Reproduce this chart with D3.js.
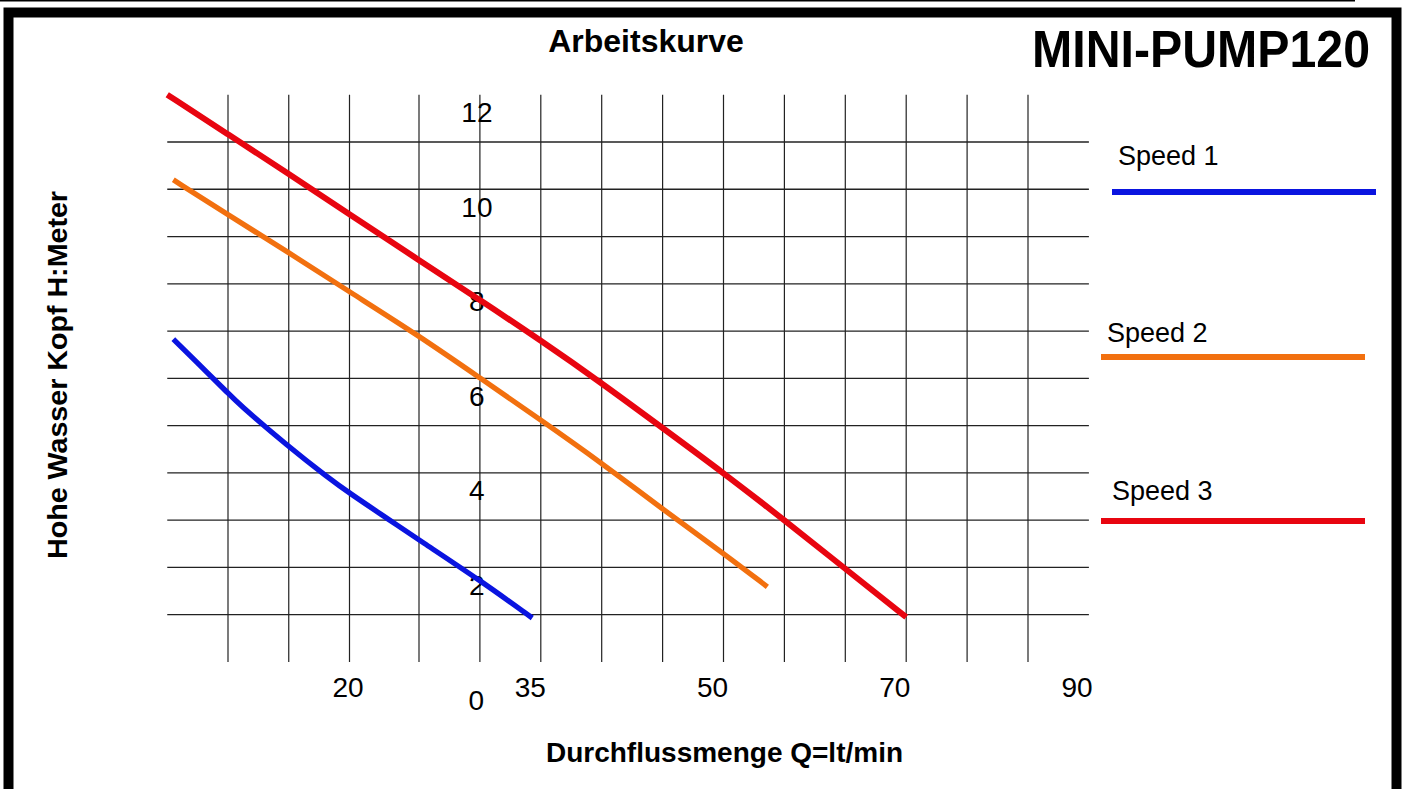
<!DOCTYPE html>
<html>
<head>
<meta charset="utf-8">
<script src="https://cdn.jsdelivr.net/npm/d3@7/dist/d3.min.js"></script>
<style>
    body { margin: 0; background: #fff; }
    svg { display: block; }
    text { font-family: "Liberation Sans", Arial, sans-serif; fill: #000; }
</style>
</head>
<body>
<div id="chart"></div>
<script>
// Data ----------------------------------------------------------------------
var speeds = ["Speed 1", "Speed 2", "Speed 3"];
var speedColors = ["#0a14e0", "#f2700f", "#e80510"];

// flow Q (l/min) and head H (m) for every speed
var q1 = [5.5, 8.5, 10, 10.7, 15, 18.2, 20, 22.9, 25, 30, 34.3];
var h1 = [7.83, 7.07, 6.69, 6.5, 5.55, 4.91, 4.57, 4.0, 3.58, 2.73, 1.93];

var q2 = [5.5, 10, 15, 20, 25, 30, 35, 40, 45, 50, 53.6];
var h2 = [11.2, 10.46, 9.66, 8.83, 7.9, 7.01, 6.12, 5.21, 4.23, 3.3, 2.59];

var q3 = [5, 10, 15, 20, 25, 30, 35, 40, 45, 50, 55, 60, 65];
var h3 = [13.0, 12.16, 11.33, 10.47, 9.5, 8.66, 7.8, 6.9, 5.95, 5.0, 4.0, 2.97, 1.95];

var xTickLabels = ["20", "35", "50", "70", "90"];
var yTickValues = [2, 4, 6, 8, 10, 12];
var gridQ = d3.range(10, 80, 5);
var gridH = d3.range(2, 13, 1);

var series = [
    { name: speeds[0], color: speedColors[0], q: q1, h: h1 },
    { name: speeds[1], color: speedColors[1], q: q2, h: h2 },
    { name: speeds[2], color: speedColors[2], q: q3, h: h3 }
];

// Dimensions ----------------------------------------------------------------
var width = 1407,
    height = 789;

var svg = d3.select("#chart").append("svg")
    .attr("width", width)
    .attr("height", height);

// Scales ---------------------------------------------------------------------
// the grid in the drawing is slightly uneven, so the x scale is polylinear
var x = d3.scaleLinear()
    .domain([10, 20, 25, 75])
    .range([228, 349.5, 419, 1028]);
var y = d3.scaleLinear()
    .domain([2, 12])
    .range([614.7, 142]);
var xLabel = d3.scalePoint()
    .domain(xTickLabels)
    .range([348, 1077]);

// Frame ----------------------------------------------------------------------
svg.append("line")
    .attr("x1", 0).attr("x2", 1355)
    .attr("y1", 0.8).attr("y2", 0.8)
    .attr("stroke", "#000")
    .attr("stroke-width", 1.6);

svg.append("rect")
    .attr("x", 8.5)
    .attr("y", 12.5)
    .attr("width", 1388)
    .attr("height", 900)
    .attr("fill", "none")
    .attr("stroke", "#000")
    .attr("stroke-width", 10);

// Grid -----------------------------------------------------------------------
svg.append("g").selectAll("line")
    .data(gridH)
    .enter().append("line")
    .attr("x1", x(5))
    .attr("x2", x(80))
    .attr("y1", function(d) { return y(d); })
    .attr("y2", function(d) { return y(d); })
    .attr("stroke", "#222")
    .attr("stroke-width", 1.3);

svg.append("g").selectAll("line")
    .data(gridQ)
    .enter().append("line")
    .attr("x1", function(d) { return x(d); })
    .attr("x2", function(d) { return x(d); })
    .attr("y1", y(13))
    .attr("y2", y(1))
    .attr("stroke", "#222")
    .attr("stroke-width", 1.2);

// Tick labels ----------------------------------------------------------------
svg.append("g").selectAll("text")
    .data(yTickValues)
    .enter().append("text")
    .attr("x", x(30) - 3)
    .attr("y", function(d) { return y(d) - 30; })
    .attr("dy", "0.36em")
    .attr("text-anchor", "middle")
    .style("font-size", "28px")
    .text(function(d) { return d; });

// origin label sits on its own, below the y labels
svg.append("text")
    .attr("x", x(30) - 3.5)
    .attr("y", y(0) - 9)
    .attr("dy", "0.36em")
    .attr("text-anchor", "middle")
    .style("font-size", "28px")
    .text("0");

svg.append("g").selectAll("text")
    .data(xTickLabels)
    .enter().append("text")
    .attr("x", function(d) { return xLabel(d); })
    .attr("y", 697)
    .attr("text-anchor", "middle")
    .style("font-size", "28px")
    .text(function(d) { return d; });

// Curves ---------------------------------------------------------------------
var line = d3.line()
    .x(function(d) { return x(d[0]); })
    .y(function(d) { return y(d[1]); })
    .curve(d3.curveBasis);

svg.append("g").selectAll("path")
    .data(series)
    .enter().append("path")
    .attr("d", function(s) { return line(d3.zip(s.q, s.h)); })
    .attr("fill", "none")
    .attr("stroke", function(s) { return s.color; })
    .attr("stroke-width", function(s, i) { return i == 2 ? 6 : 5.3; })
    .attr("stroke-linejoin", "round");

// Titles ---------------------------------------------------------------------
svg.append("text")
    .attr("x", 646)
    .attr("y", 51.5)
    .attr("text-anchor", "middle")
    .style("font-size", "32px")
    .style("font-weight", "bold")
    .text("Arbeitskurve");

svg.append("text")
    .attr("x", 1032)
    .attr("y", 66.5)
    .attr("textLength", 338)
    .attr("lengthAdjust", "spacingAndGlyphs")
    .style("font-size", "51px")
    .style("font-weight", "bold")
    .text("MINI-PUMP120");

svg.append("text")
    .attr("x", 724.5)
    .attr("y", 761.5)
    .attr("text-anchor", "middle")
    .style("font-size", "28px")
    .style("font-weight", "bold")
    .text("Durchflussmenge Q=lt/min");

svg.append("text")
    .attr("transform", "translate(67,375) rotate(-90)")
    .attr("text-anchor", "middle")
    .attr("textLength", 368)
    .attr("lengthAdjust", "spacingAndGlyphs")
    .style("font-size", "28.5px")
    .style("font-weight", "bold")
    .text("Hohe Wasser Kopf H:Meter");

// Legend ---------------------------------------------------------------------
var legendPos = [
    { tx: 1118, ty: 165, x1: 1112, x2: 1376, ly: 192 },
    { tx: 1107, ty: 341.5, x1: 1101, x2: 1365, ly: 357 },
    { tx: 1112, ty: 500, x1: 1101, x2: 1365, ly: 521 }
];

var legend = svg.append("g").selectAll("g")
    .data(series)
    .enter().append("g");

legend.append("text")
    .attr("x", function(s, i) { return legendPos[i].tx; })
    .attr("y", function(s, i) { return legendPos[i].ty; })
    .style("font-size", "27px")
    .text(function(s) { return s.name; });

legend.append("line")
    .attr("x1", function(s, i) { return legendPos[i].x1; })
    .attr("x2", function(s, i) { return legendPos[i].x2; })
    .attr("y1", function(s, i) { return legendPos[i].ly; })
    .attr("y2", function(s, i) { return legendPos[i].ly; })
    .attr("stroke", function(s) { return s.color; })
    .attr("stroke-width", 6);
</script>
</body>
</html>
